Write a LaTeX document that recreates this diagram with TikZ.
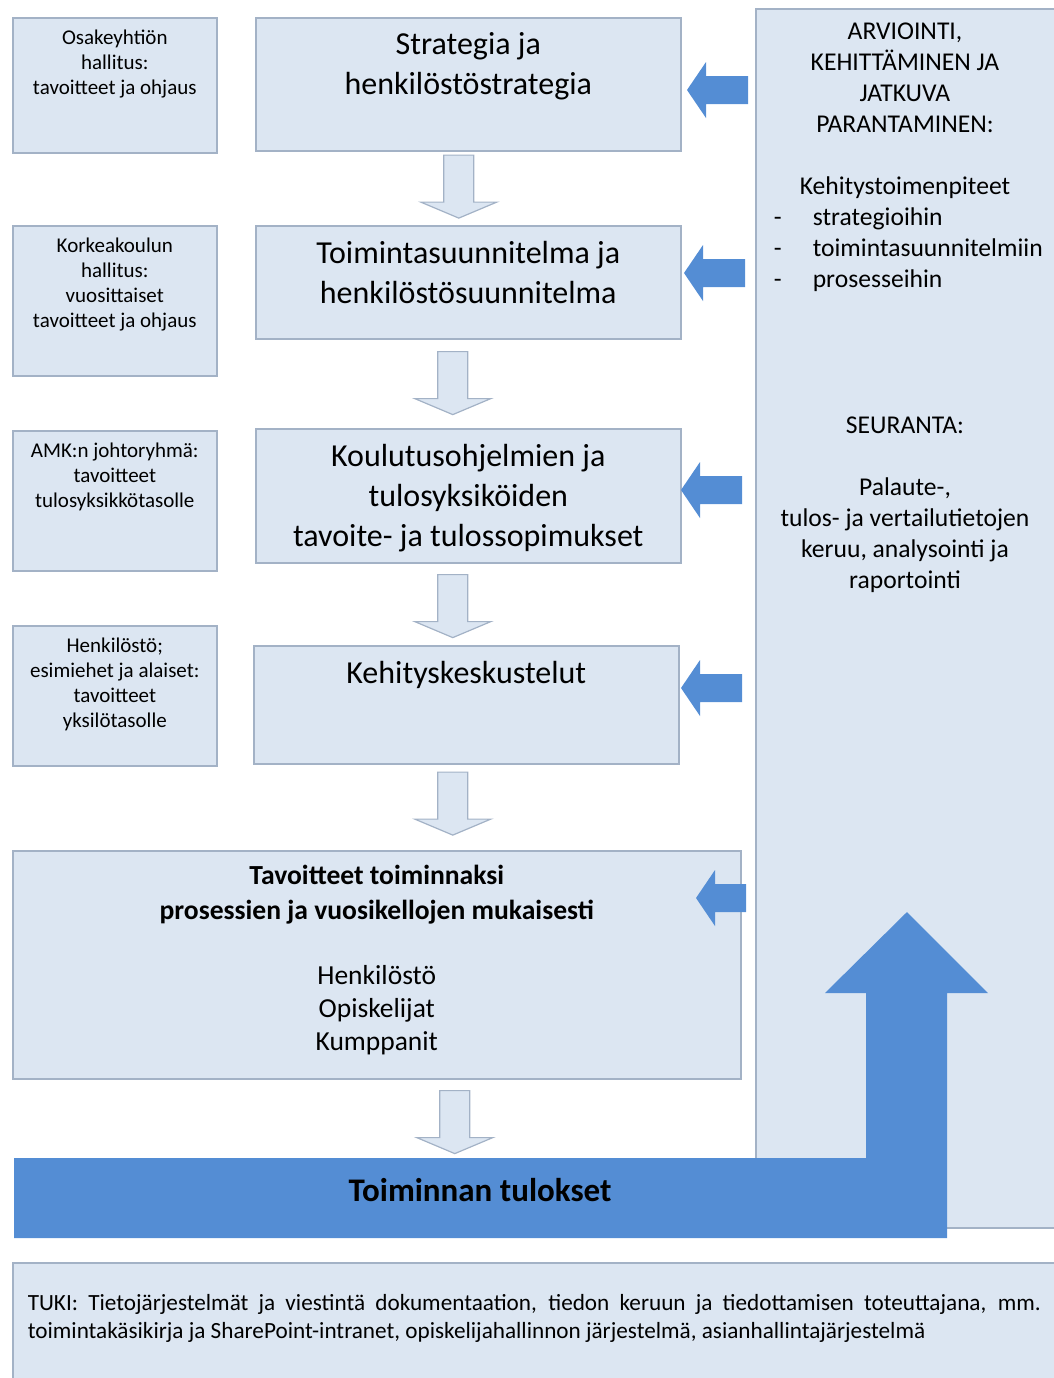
\documentclass[tikz,border=0pt]{standalone}
\usepackage{fontspec}
\setmainfont{Carlito}
\usetikzlibrary{calc}
\definecolor{boxfill}{RGB}{220,230,242}
\definecolor{boxline}{RGB}{163,178,198}
\definecolor{arrblue}{RGB}{84,141,212}
\tikzset{
  box/.style={draw=boxline, fill=boxfill, anchor=north west, inner sep=0pt},
  ltext/.style={font=\fontsize{10.5}{12.5}\selectfont, align=center, inner sep=0pt},
  mtext/.style={font=\fontsize{16}{20}\selectfont, align=center, inner sep=0pt},
  rtext/.style={font=\fontsize{12.8}{15.5}\selectfont, align=center, inner sep=0pt},
  downarr/.pic={\filldraw[draw=boxline, fill=boxfill, line width=0.6pt]
    (-15,-31)--(15,-31)--(15,16)--(38,16)--(0,32)--(-38,16)--(-15,16)--cycle;},
  leftarr/.pic={\fill[arrblue]
    (0,0)--(19,-28)--(19,-14)--(#1,-14)--(#1,14)--(19,14)--(19,28)--cycle;},
}
\begin{document}
\begin{tikzpicture}[x=0.5pt, y=-0.5pt, line width=0.8pt]
    \useasboundingbox (0,0) rectangle (1054,1378);
    % arviointi ja seuranta
    \node[box, minimum width=152.5pt, minimum height=609.5pt] (r) at (755,8) {};
    % ohjaavat tahot
    \node[box, minimum width=102pt, minimum height=67.5pt] (o1) at (12,17) {};
    \node[box, minimum width=102pt, minimum height=75pt] (o2) at (12,225) {};
    \node[box, minimum width=102pt, minimum height=70pt] (o3) at (12,430) {};
    \node[box, minimum width=102pt, minimum height=70pt] (o4) at (12,625) {};
    % suunnittelun tasot
    \node[box, minimum width=212.5pt, minimum height=66.5pt] (m1) at (255,17) {};
    \node[box, minimum width=212.5pt, minimum height=56.5pt] (m2) at (255,225) {};
    \node[box, minimum width=212.5pt, minimum height=67pt] (m3) at (255,428) {};
    \node[box, minimum width=212.5pt, minimum height=59pt] (m4) at (253,645) {};
    \node[box, minimum width=364pt, minimum height=114pt] (m5) at (12,850) {};
    \node[box, minimum width=524pt, minimum height=64pt] (t) at (12,1262) {};
    % tulokset
    \fill[arrblue] (14,1158) -- (866,1158) -- (866,993) -- (825,993) -- (907,912)
        -- (988,993) -- (947,993) -- (947,1238) -- (14,1238) -- cycle;
    \node[font=\bfseries\fontsize{16.5}{19}\selectfont, inner sep=0pt] (res) at (480,1190) {Toiminnan tulokset};
    \pic at ($(m1.south)+(-9.5,34.5)$) {downarr};
    \pic at ($(m2.south)+(-15.5,43)$) {downarr};
    \pic at ($(m3.south)+(-15.5,42)$) {downarr};
    \pic at ($(m4.south)+(-13.5,38.5)$) {downarr};
    \pic at ($(m5.south)+(78,42)$) {downarr};
    \pic at (687,90) {leftarr=61};
    \pic at (684,273) {leftarr=61};
    \pic at (681,490) {leftarr=61};
    \pic at (681,688) {leftarr=61};
    \pic at (696,898) {leftarr=50};
    % tekstit
    \node[ltext, below=6pt] (o1t) at (o1.north) {Osakeyhtiön\\hallitus:\\tavoitteet ja ohjaus};
    \node[ltext, below=6pt] (o2t) at (o2.north) {Korkeakoulun\\hallitus:\\vuosittaiset\\tavoitteet ja ohjaus};
    \node[ltext, below=6pt] (o3t) at (o3.north) {AMK:n johtoryhmä:\\tavoitteet\\tulosyksikkötasolle};
    \node[ltext, below=6pt] (o4t) at (o4.north) {Henkilöstö;\\esimiehet ja alaiset:\\tavoitteet\\yksilötasolle};
    \node[mtext, below=7.5pt] (m1t) at (m1.north) {Strategia ja\\henkilöstöstrategia};
    \node[mtext, below=7.5pt] (m2t) at (m2.north) {Toimintasuunnitelma ja\\henkilöstösuunnitelma};
    \node[mtext, below=7.5pt] (m3t) at (m3.north) {Koulutusohjelmien ja\\tulosyksiköiden\\tavoite- ja tulossopimukset};
    \node[mtext, below=7.5pt] (m4t) at (m4.north) {Kehityskeskustelut};
    \node[font=\bfseries\fontsize{13.8}{17.5}\selectfont, align=center, inner sep=0pt, below=7.25pt] (m5a) at (m5.north)
        {Tavoitteet toiminnaksi\\prosessien ja vuosikellojen mukaisesti};
    \node[font=\fontsize{13.75}{16.5}\selectfont, align=center, inner sep=0pt, below=57.25pt] (m5b) at (m5.north)
        {Henkilöstö\\Opiskelijat\\Kumppanit};
    \node[rtext, below] (r1) at (905,22) {ARVIOINTI,\\KEHITTÄMINEN JA\\JATKUVA\\PARANTAMINEN:\\[15.5pt]Kehitystoimenpiteet};
    \node[anchor=north west, inner sep=0pt, font=\fontsize{12.8}{15.5}\selectfont] (r2) at (773,203)
        {\begin{tabular}{@{}p{19.5pt}@{}l@{}}-&strategioihin\\-&toimintasuunnitelmiin\\-&prosesseihin\end{tabular}};
    \node[rtext, below] (r3) at (905,416) {SEURANTA:\\[15.5pt]Palaute-,\\tulos- ja vertailutietojen\\keruu, analysointi ja\\raportointi};
    \node[anchor=north west, inner sep=0pt, text width=506.5pt, align=justify, font=\fontsize{11.6}{14}\selectfont] (tt) at (27,1293.5)
        {TUKI: Tietojärjestelmät ja viestintä dokumentaation, tiedon keruun ja tiedottamisen toteuttajana, mm. \mbox{toimintakäsikirja} ja SharePoint-intranet, opiskelijahallinnon järjestelmä, asianhallintajärjestelmä};
\end{tikzpicture}
\end{document}
